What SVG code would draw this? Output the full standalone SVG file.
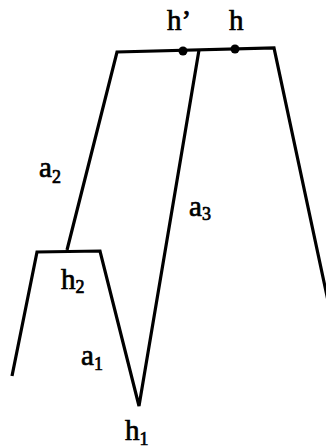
<svg xmlns="http://www.w3.org/2000/svg" width="326" height="448" viewBox="0 0 326 448">
<style>
.ln{fill:none;stroke:#000;stroke-width:3.2;stroke-linejoin:miter;stroke-linecap:butt}
.t{font-family:"Liberation Serif","Times New Roman",serif;font-size:29px;fill:#000;stroke:#000;stroke-width:0.7}
.s{font-size:18px}
</style>
<rect width="326" height="448" fill="#fff"/>
<g id="connectors">
<polyline class="ln" points="67,250 117,52 274,48 330,310"/>
<polyline class="ln" points="12,376 37,252 100,251 139,406 199,50"/>
<circle cx="183" cy="51" r="4.5" fill="#000"/>
<circle cx="235" cy="49" r="4.5" fill="#000"/>
</g>
<g id="node-hprime"><text class="t" x="167" y="30" font-size="26">h’</text></g>
<g id="node-h"><text class="t" x="229" y="30" font-size="26">h</text></g>
<g id="node-a2"><text class="t" x="39" y="177">a<tspan class="s" dy="6">2</tspan></text></g>
<g id="node-a3"><text class="t" x="189" y="216">a<tspan class="s" dy="4">3</tspan></text></g>
<g id="node-h2"><text class="t" x="61" y="289">h<tspan class="s" dy="4">2</tspan></text></g>
<g id="node-a1"><text class="t" x="81" y="365">a<tspan class="s" dy="5">1</tspan></text></g>
<g id="node-h1"><text class="t" x="125" y="440">h<tspan class="s" dy="5">1</tspan></text></g>
</svg>
